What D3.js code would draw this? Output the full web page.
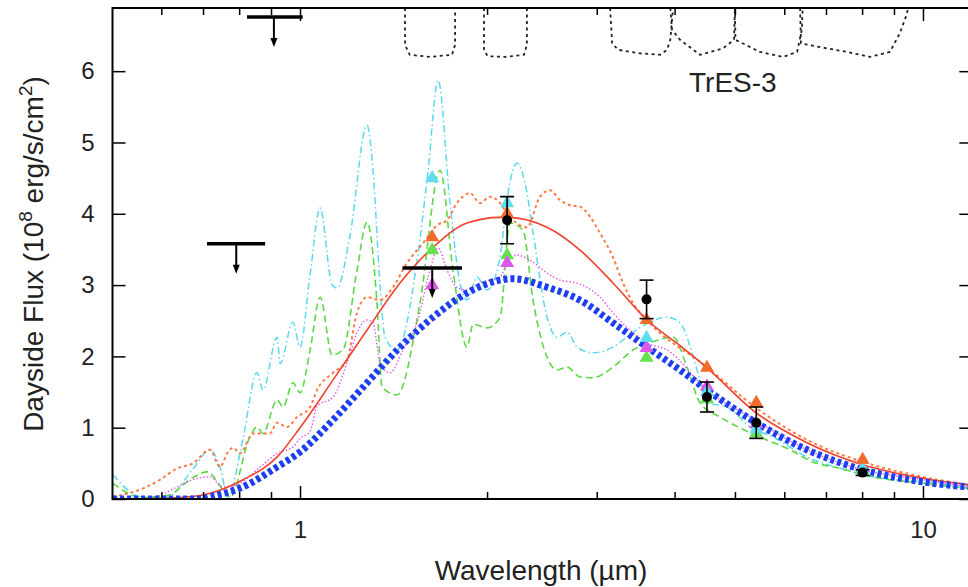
<!DOCTYPE html>
<html>
<head>
<meta charset="utf-8">
<script src="https://cdn.jsdelivr.net/npm/d3@7"></script>
<style>
body { margin: 0; background: #fff; }
text { font-family: "Liberation Sans", Arial, Helvetica, sans-serif; fill: #222; }
</style>
</head>
<body>
<div class="canvas"></div>
<script>
// ---- data (wavelength in micron, flux in 1e8 erg/s/cm2) ----
const cyanModel = [[0.501,0.34],[0.530,0.12],[0.554,0.03],[0.612,0.03],[0.673,0.42],[0.717,0.69],[0.744,0.45],[0.766,0.03],
  [0.810,0.85],[0.853,1.77],[0.872,1.53],[0.919,2.27],[0.929,1.90],[0.974,2.48],[1.0,2.13],[1.038,3.15],[1.077,4.08],
  [1.126,3.0],[1.147,2.96],[1.203,3.7],[1.281,5.24],[1.310,4.6],[1.344,3.0],[1.369,2.27],[1.431,2.09],[1.541,3.34],
  [1.605,4.6],[1.666,5.87],[1.741,4.15],[1.806,3.03],[1.854,2.79],[1.924,3.11],[1.996,2.93],[2.094,3.39],[2.149,4.2],
  [2.230,4.71],[2.313,4.3],[2.366,3.74],[2.492,2.55],[2.586,2.27],[2.684,2.34],[2.784,2.13],[2.953,2.05],[3.180,2.13],
  [3.424,2.34],[3.646,2.48],[3.883,2.55],[4.074,2.47],[4.338,1.81],[4.501,1.35],[4.847,1.29],[5.277,1.01],[5.743,0.87],
  [6.513,0.59],[7.358,0.43],[8.313,0.31],[10,0.24],[11.81,0.15]]

const greenModel = [[0.501,0.22],[0.530,0.08],[0.554,0.02],[0.612,0.05],[0.673,0.30],[0.709,0.38],[0.752,0.13],[0.772,0.02],
  [0.831,0.87],[0.853,1.01],[0.872,0.92],[0.919,1.39],[0.939,1.29],[0.974,1.63],[1.0,1.49],[1.038,2.09],[1.077,2.83],
  [1.126,2.02],[1.172,2.09],[1.234,3.2],[1.281,3.88],[1.329,2.75],[1.354,1.57],[1.431,1.46],[1.558,2.75],[1.678,4.61],
  [1.760,3.21],[1.854,2.13],[1.896,2.45],[1.996,2.40],[2.094,2.55],[2.173,3.87],[2.280,3.77],[2.366,2.79],[2.492,1.99],
  [2.586,1.81],[2.684,1.85],[2.815,1.71],[2.953,1.70],[3.180,1.85],[3.424,2.09],[3.646,2.19],[3.970,2.27],[4.181,1.85],
  [4.386,1.35],[4.723,1.15],[5.277,0.93],[6.116,0.69],[6.659,0.52],[7.358,0.43],[8.313,0.31],[10,0.22],[11.81,0.15]]

const orangeModel = [[0.501,0.03],[0.560,0.15],[0.596,0.27],[0.635,0.43],[0.673,0.50],[0.717,0.69],[0.744,0.45],[0.764,0.64],
  [0.781,0.72],[0.801,0.64],[0.841,0.92],[0.895,0.92],[0.919,1.07],[0.953,1.01],[0.989,1.15],[1.038,1.29],[1.065,1.53],
  [1.130,1.77],[1.190,1.95],[1.234,2.61],[1.281,2.83],[1.344,2.79],[1.410,2.97],[1.485,3.31],[1.576,3.59],[1.660,3.84],
  [1.722,3.91],[1.786,4.15],[1.875,4.29],[1.945,4.15],[2.018,4.24],[2.094,4.15],[2.149,4.01],[2.313,3.81],[2.428,4.24],
  [2.519,4.33],[2.615,4.19],[2.713,4.12],[2.815,4.10],[2.921,3.96],[3.030,3.73],[3.180,3.39],[3.300,3.03],[3.424,2.75],
  [3.606,2.51],[4.501,1.85],[5.375,1.29],[6.513,0.83],[8.012,0.52],[10,0.31],[11.81,0.20]]

const magentaModel = [[0.501,0.01],[0.574,0.01],[0.596,0.05],[0.635,0.17],[0.673,0.27],[0.717,0.31],[0.752,0.17],[0.792,0.20],
  [0.853,0.41],[0.919,0.64],[0.974,0.73],[1.0,0.85],[1.038,0.95],[1.065,1.30],[1.130,1.43],[1.190,1.91],[1.234,2.33],
  [1.281,2.51],[1.310,2.47],[1.344,1.91],[1.394,1.77],[1.463,2.09],[1.541,2.47],[1.617,3.21],[1.666,3.52],[1.722,3.21],
  [1.786,2.97],[1.854,2.93],[1.945,3.03],[2.018,3.07],[2.094,3.11],[2.149,3.31],[2.230,3.42],[2.340,3.35],[2.492,3.17],
  [2.615,3.07],[2.743,3.04],[2.888,2.97],[3.030,2.83],[3.180,2.61],[3.386,2.37],[3.606,2.19],[3.883,2.09],[4.501,1.53],
  [5.375,1.11],[6.513,0.69],[8.012,0.41],[10,0.27],[11.81,0.17]]

const redBlackbody = [[0.501,0.0],[0.596,0.01],[0.691,0.05],[0.717,0.08],[0.810,0.27],[0.919,0.59],[1.0,1.0],[1.130,1.67],
  [1.281,2.37],[1.447,3.03],[1.635,3.53],[1.854,3.87],[2.094,3.95],[2.149,3.95],[2.492,3.81],[2.815,3.49],[3.180,3.03],
  [3.606,2.51],[4.074,2.15],[4.501,1.84],[5.375,1.22],[6.513,0.79],[8.012,0.48],[10,0.29],[11.81,0.20]]

const blueBlackbody = [[0.501,0.0],[0.691,0.0],[0.717,0.03],[0.810,0.17],[0.919,0.45],[1.0,0.66],[1.130,1.11],[1.281,1.63],
  [1.447,2.13],[1.635,2.55],[1.854,2.89],[2.094,3.07],[2.197,3.09],[2.492,2.97],[2.815,2.79],[3.180,2.47],[3.606,2.13],
  [4.074,1.81],[4.501,1.53],[5.375,1.08],[6.513,0.69],[8.012,0.41],[10,0.24],[11.81,0.17]]

// filter transmission outlines hanging from the top of the frame
const filterH = [[1.474,6.886],[1.474,6.37],[1.50,6.23],[1.617,6.20],[1.754,6.23],[1.774,6.37],[1.774,6.886]]
const filterKs = [[1.974,6.886],[1.974,6.30],[2.00,6.21],[2.134,6.20],[2.289,6.23],[2.313,6.37],[2.313,6.886]]
const filterI1 = [[3.146,6.886],[3.17,6.39],[3.24,6.30],[3.51,6.25],[3.784,6.23],[3.883,6.30],[3.93,6.44],[3.97,6.886]]
const filterI2 = [[3.93,6.886],[3.955,6.58],[4.074,6.44],[4.386,6.23],[4.775,6.32],[4.974,6.44],[4.99,6.886]]
const filterI3 = [[4.99,6.886],[5.0,6.44],[5.475,6.27],[5.96,6.20],[6.28,6.27],[6.39,6.58],[6.41,6.886]]
const filterI4 = [[6.35,6.886],[6.37,6.39],[7.01,6.32],[7.55,6.27],[8.22,6.20],[8.85,6.27],[9.18,6.53],[9.43,6.81],[9.45,6.886]]

// measured dayside fluxes
const obsWave = [2.15, 3.6, 4.5, 5.4, 8.0]
const obsFlux = [3.91, 2.80, 1.43, 1.07, 0.37]
const obsErr = [0.33, 0.27, 0.21, 0.22, 0.04]

// upper limits: centre, band edges, value
const limWave = [0.908, 0.79, 1.63]
const limLo = [0.822, 0.709, 1.46]
const limHi = [1.01, 0.879, 1.82]
const limFlux = [6.76, 3.58, 3.24]

// band-integrated model values (triangles)
const bandWave = [1.63, 2.15, 3.6, 4.5, 5.4, 8.0]
const bandCyan = [4.50, 4.15, 2.26, 1.50, 0.98, 0.42]
const bandGreen = [3.49, 3.42, 1.98, 1.40, 0.92, 0.40]
const bandMagenta = [3.00, 3.31, 2.12, 1.58, 1.05, 0.42]
const bandOrange = [3.67, 4.00, 2.51, 1.84, 1.35, 0.55]

const xMajor = [1, 10]
const xMinor = [0.6, 0.7, 0.8, 0.9, 2, 3, 4, 5, 6, 7, 8, 9]
const yTicks = [0, 1, 2, 3, 4, 5, 6]

// ---- layout ----
const width = 968
const height = 587

const canvas = d3.select(".canvas")
const svg = canvas.append("svg")
    .attr("width", width)
    .attr("height", height)

const x = d3.scaleLog().domain([0.5, 12]).range([112.5, 972.3])
const y = d3.scaleLinear().domain([0, 6.886]).range([499, 8])

svg.append("clipPath").attr("id", "plotclip")
    .append("rect")
    .attr("x", x(0.5)).attr("y", y(6.886))
    .attr("width", x(12) - x(0.5)).attr("height", y(0) - y(6.886))

const plot = svg.append("g").attr("clip-path", "url(#plotclip)")

const line = d3.line()
    .x(d => x(d[0]))
    .y(d => y(d[1]))

const smooth = d3.line()
    .x(d => x(d[0]))
    .y(d => y(d[1]))
    .curve(d3.curveMonotoneX)

// filter curves
;[filterH, filterKs, filterI1, filterI2, filterI3, filterI4].forEach(f => {
    plot.append("path")
        .attr("d", line(f))
        .attr("fill", "none")
        .attr("stroke", "#222")
        .attr("stroke-width", 1.8)
        .attr("stroke-dasharray", "3,3.5")
})

// model spectra
const series = [
    { data: cyanModel, color: "#5ad8ee", w: 1.5, dash: "7,3,1.5,3" },
    { data: greenModel, color: "#5cd844", w: 1.6, dash: "7,4" },
    { data: orangeModel, color: "#ff7a48", w: 2, dash: "3,3" },
    { data: magentaModel, color: "#e455ec", w: 1.4, dash: "1.5,2" },
    { data: redBlackbody, color: "#f0402e", w: 1.6, dash: null },
    { data: blueBlackbody, color: "#1d3ff0", w: 7, dash: "4,3" }
]
series.forEach(s => {
    plot.append("path")
        .attr("d", smooth(s.data))
        .attr("fill", "none")
        .attr("stroke", s.color)
        .attr("stroke-width", s.w)
        .attr("stroke-dasharray", s.dash)
})

// triangles
const tri = d3.symbol().type(d3.symbolTriangle).size(85)
const bands = [
    { vals: bandGreen, color: "#66e04e" },
    { vals: bandMagenta, color: "#dc58ea" },
    { vals: bandCyan, color: "#5fdcf0" },
    { vals: bandOrange, color: "#f26a2c" }
]
bands.forEach(b => {
    plot.selectAll(null)
        .data(bandWave.map((w, i) => [w, b.vals[i]]))
        .enter()
        .append("path")
        .attr("d", tri)
        .attr("transform", d => `translate(${x(d[0])},${y(d[1])})`)
        .attr("fill", b.color)
})

// observed points with error bars
const obs = obsWave.map((w, i) => ({ w: w, f: obsFlux[i], e: obsErr[i] }))
const pts = plot.selectAll(".obs").data(obs).enter().append("g").attr("class", "obs")
pts.append("line")
    .attr("x1", d => x(d.w)).attr("x2", d => x(d.w))
    .attr("y1", d => y(d.f - d.e)).attr("y2", d => y(d.f + d.e))
    .attr("stroke", "#000").attr("stroke-width", 1.6)
pts.append("line")
    .attr("x1", d => x(d.w) - 7).attr("x2", d => x(d.w) + 7)
    .attr("y1", d => y(d.f + d.e)).attr("y2", d => y(d.f + d.e))
    .attr("stroke", "#000").attr("stroke-width", 1.6)
pts.append("line")
    .attr("x1", d => x(d.w) - 7).attr("x2", d => x(d.w) + 7)
    .attr("y1", d => y(d.f - d.e)).attr("y2", d => y(d.f - d.e))
    .attr("stroke", "#000").attr("stroke-width", 1.6)
pts.append("circle")
    .attr("cx", d => x(d.w)).attr("cy", d => y(d.f))
    .attr("r", 5).attr("fill", "#000")

// upper limits
const lims = limWave.map((w, i) => ({ w: w, lo: limLo[i], hi: limHi[i], f: limFlux[i] }))
const ul = svg.selectAll(".lim").data(lims).enter().append("g").attr("class", "lim")
ul.append("line")
    .attr("x1", d => x(d.lo)).attr("x2", d => x(d.hi))
    .attr("y1", d => y(d.f)).attr("y2", d => y(d.f))
    .attr("stroke", "#000").attr("stroke-width", 3.5)
ul.append("line")
    .attr("x1", d => x(d.w)).attr("x2", d => x(d.w))
    .attr("y1", d => y(d.f)).attr("y2", d => y(d.f) + 22)
    .attr("stroke", "#000").attr("stroke-width", 2)
ul.append("path")
    .attr("d", d => `M${x(d.w) - 3.5},${y(d.f) + 21}L${x(d.w) + 3.5},${y(d.f) + 21}L${x(d.w)},${y(d.f) + 30}Z`)
    .attr("fill", "#000")

// ---- axes ----
const axes = svg.append("g")

const bottomAxis = axes.append("g")
    .attr("transform", `translate(0,${y(0)})`)
    .call(d3.axisBottom(x).tickValues(xMajor).tickFormat(d3.format("d")).tickSize(-13).tickSizeOuter(0).tickPadding(22))

const topAxis = axes.append("g")
    .attr("transform", `translate(0,${y(6.886)})`)
    .call(d3.axisTop(x).tickValues(xMajor).tickFormat("").tickSize(-13).tickSizeOuter(0))

// minor ticks, bottom and top
xMinor.forEach(v => {
    bottomAxis.append("line")
        .attr("x1", x(v)).attr("x2", x(v))
        .attr("y1", 0).attr("y2", -7)
        .attr("stroke", "#000").attr("stroke-width", 1.5)
    topAxis.append("line")
        .attr("x1", x(v)).attr("x2", x(v))
        .attr("y1", 0).attr("y2", 7)
        .attr("stroke", "#000").attr("stroke-width", 1.5)
})

axes.append("g")
    .attr("transform", `translate(${x(0.5)},0)`)
    .call(d3.axisLeft(y).tickValues(yTicks).tickFormat(d3.format("d")).tickSize(-13).tickSizeOuter(0).tickPadding(18))

axes.append("g")
    .attr("transform", `translate(${x(12)},0)`)
    .call(d3.axisRight(y).tickValues(yTicks).tickFormat("").tickSize(-13).tickSizeOuter(0))

axes.selectAll(".domain").remove()
axes.selectAll(".tick line").attr("stroke", "#000").attr("stroke-width", 1.5)
axes.selectAll("text")
    .attr("font-size", 24)
    .style("font-family", "'Liberation Sans', Arial, sans-serif")
    .attr("fill", "#222")

// frame
svg.append("rect")
    .attr("x", x(0.5)).attr("y", y(6.886))
    .attr("width", x(12) - x(0.5)).attr("height", y(0) - y(6.886))
    .attr("fill", "none")
    .attr("stroke", "#000")
    .attr("stroke-width", 2)

// ---- labels ----
const ylab = svg.append("text")
    .attr("transform", "translate(43,254) rotate(-90)")
    .attr("text-anchor", "middle")
    .attr("font-size", 28)
ylab.append("tspan").text("Dayside Flux (10")
ylab.append("tspan").attr("font-size", 19).attr("dy", -11).text("8")
ylab.append("tspan").attr("dy", 11).text(" erg/s/cm")
ylab.append("tspan").attr("font-size", 19).attr("dy", -11).text("2")
ylab.append("tspan").attr("dy", 11).text(")")

svg.append("text")
    .attr("x", 541).attr("y", 580)
    .attr("text-anchor", "middle")
    .attr("font-size", 28)
    .text("Wavelength (\u00b5m)")

svg.append("text")
    .attr("x", 689).attr("y", 92)
    .attr("font-size", 28)
    .text("TrES-3")
</script>
</body>
</html>
